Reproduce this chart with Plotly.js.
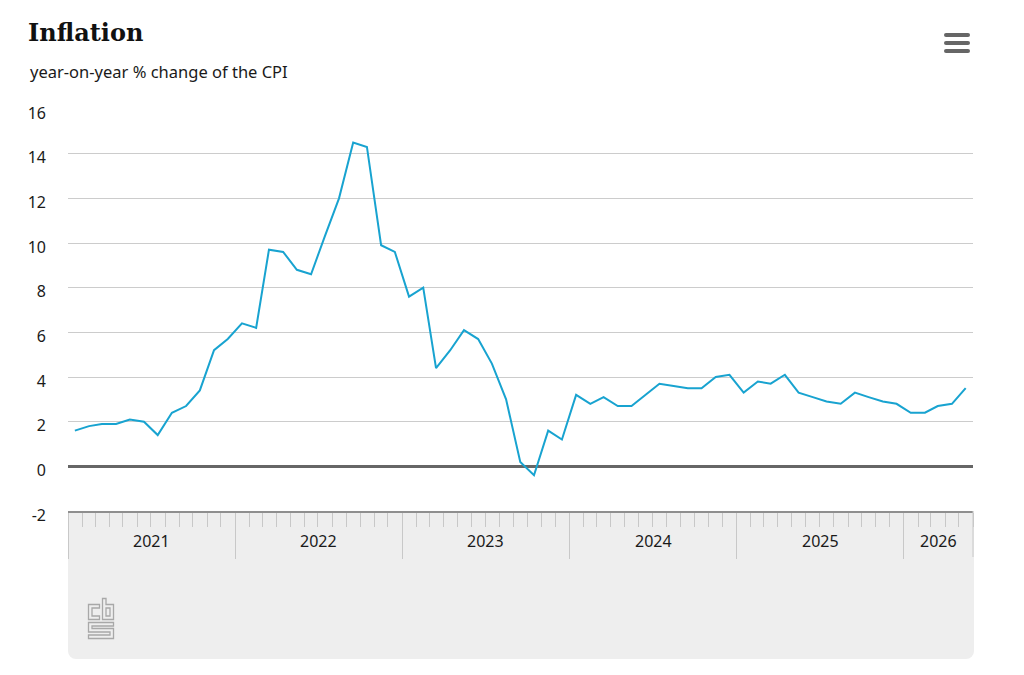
<!DOCTYPE html>
<html>
<head>
<meta charset="utf-8">
<script src="https://cdn.plot.ly/plotly-3.0.1.min.js"></script>
<style>
  html, body { margin: 0; padding: 0; background: #ffffff; }
  #wrap { position: relative; width: 1024px; height: 675px; overflow: hidden; }
  #panel { position: absolute; left: 68px; top: 511px; width: 906px; height: 148px;
           background: #eeeeee; border-radius: 0 0 8px 8px; }
  #chart { position: absolute; left: 0; top: 0; width: 1024px; height: 675px; }
  #menu { position: absolute; left: 944px; top: 33px; width: 26px; }
  #menu div { height: 4px; background: #666666; border-radius: 2px; margin-bottom: 4px; }
  #logo { position: absolute; left: 86px; top: 597px; }
</style>
</head>
<body>
<div id="wrap">
  <div id="panel"></div>
  <div id="chart"></div>
  <div id="menu"><div></div><div></div><div></div></div>
  <svg id="logo" width="30" height="44" viewBox="0 0 30 44">
    <g fill="none" stroke="#a8a8a8" stroke-width="1.3">
      <path d="M2.5,7.5 H13.5 V11 H6 V19 H13.5 V22.5 H2.5 Z"/>
      <path d="M16.5,1.5 H20 V7.5 H27.5 V22.5 H16.5 Z"/>
      <path d="M20,11 H24 V19 H20 Z"/>
      <path d="M2.5,25.5 H27.5 V29 H6 V31.5 H27.5 V41.5 H2.5 V38 H24 V35 H2.5 Z"/>
    </g>
  </svg>
</div>
<script>
// ---- data ----
const periods = [
  '2021-01','2021-02','2021-03','2021-04','2021-05','2021-06','2021-07','2021-08','2021-09','2021-10','2021-11','2021-12',
  '2022-01','2022-02','2022-03','2022-04','2022-05','2022-06','2022-07','2022-08','2022-09','2022-10','2022-11','2022-12',
  '2023-01','2023-02','2023-03','2023-04','2023-05','2023-06','2023-07','2023-08','2023-09','2023-10','2023-11','2023-12',
  '2024-01','2024-02','2024-03','2024-04','2024-05','2024-06','2024-07','2024-08','2024-09','2024-10','2024-11','2024-12',
  '2025-01','2025-02','2025-03','2025-04','2025-05','2025-06','2025-07','2025-08','2025-09','2025-10','2025-11','2025-12',
  '2026-01','2026-02','2026-03','2026-04','2026-05'
];
const inflation = [
  1.6, 1.8, 1.9, 1.9, 2.1, 2.0, 1.4, 2.4, 2.7, 3.4, 5.2, 5.7,
  6.4, 6.2, 9.7, 9.6, 8.8, 8.6, 10.3, 12.0, 14.5, 14.3, 9.9, 9.6,
  7.6, 8.0, 4.4, 5.2, 6.1, 5.7, 4.6, 3.0, 0.2, -0.4, 1.6, 1.2,
  3.2, 2.8, 3.1, 2.7, 2.7, 3.2, 3.7, 3.6, 3.5, 3.5, 4.0, 4.1,
  3.3, 3.8, 3.7, 4.1, 3.3, 3.1, 2.9, 2.8, 3.3, 3.1, 2.9, 2.8,
  2.4, 2.4, 2.7, 2.8, 3.5
];
const yearLabels = ['2021', '2022', '2023', '2024', '2025', '2026'];
const yTicks = [-2, 0, 2, 4, 6, 8, 10, 12, 14, 16];
const yTickText = ['-2', '0', '2', '4', '6', '8', '10', '12', '14', '16'];

const titleText = 'Inflation';
const subtitleText = 'year-on-year % change of the CPI';

// ---- build ----
const xDates = periods.map(p => p + '-16');
const rangeStart = '2021-01-01';
const rangeEnd = '2026-06-01';

function ms(d) { return new Date(d + 'T00:00:00Z').getTime(); }
function iso(t) { return new Date(t).toISOString().slice(0, 10); }

const yearAnnots = yearLabels.map(y => {
  const a = Math.max(ms(y + '-01-01'), ms(rangeStart));
  const b = Math.min(ms((+y + 1) + '-01-01'), ms(rangeEnd));
  return {
    text: y, x: iso((a + b) / 2), xref: 'x', y: -0.075, yref: 'paper',
    xanchor: 'center', yanchor: 'middle', showarrow: false,
    font: { family: 'Noto Sans, sans-serif', size: 16, color: '#1a1a1a' }
  };
});

const trace = {
  type: 'scatter', mode: 'lines',
  x: xDates, y: inflation,
  line: { color: '#18a3d0', width: 2 },
  hoverinfo: 'x+y'
};

const layout = {
  width: 1024, height: 675,
  margin: { l: 68, r: 51, t: 109, b: 164 },
  paper_bgcolor: 'rgba(0,0,0,0)',
  plot_bgcolor: '#ffffff',
  showlegend: false,
  font: { family: 'Noto Sans, sans-serif', color: '#222222' },
  title: {
    text: titleText, xref: 'container', yref: 'container',
    x: 28 / 1024, xanchor: 'left', y: 1 - 33 / 675, yanchor: 'middle',
    font: { family: 'DejaVu Serif, serif', size: 24, color: '#111111', weight: 'bold' }
  },
  annotations: [
    {
      text: subtitleText, xref: 'paper', yref: 'paper',
      x: (28 - 68) / 905, xanchor: 'left', y: (511 - 72) / 402, yanchor: 'middle',
      showarrow: false,
      font: { family: 'Noto Sans, sans-serif', size: 16.5, color: '#1a1a1a' }
    }
  ].concat(yearAnnots),
  xaxis: {
    type: 'date', range: [rangeStart, rangeEnd],
    showgrid: false, zeroline: false,
    showline: true, linecolor: '#8f8f8f', linewidth: 2,
    ticks: 'outside', tick0: '2021-01-01', dtick: 'M12',
    ticklen: 46, tickcolor: '#c8c8c8', tickwidth: 1,
    showticklabels: false,
    minor: { ticks: 'outside', tick0: '2021-01-01', dtick: 'M1', ticklen: 14, tickcolor: '#c8c8c8', tickwidth: 1, showgrid: false },
    fixedrange: true
  },
  yaxis: {
    range: [-2, 16], tickmode: 'array', tickvals: yTicks, ticktext: yTickText,
    showgrid: true, gridcolor: '#cccccc', gridwidth: 1,
    zeroline: true, zerolinecolor: '#666666', zerolinewidth: 3,
    showline: false, ticks: '',
    ticklabelstandoff: 21,
    ticklabelshift: 4,
    tickfont: { family: 'Noto Sans, sans-serif', size: 16, color: '#1a1a1a' },
    fixedrange: true
  },
  shapes: [
    { type: 'line', xref: 'paper', x0: 1, x1: 1, yref: 'paper', ysizemode: 'pixel', yanchor: 0, y0: 0, y1: -46,
      line: { color: '#c8c8c8', width: 1 } }
  ]
};

Plotly.newPlot('chart', [trace], layout, { displayModeBar: false });
</script>
</body>
</html>
